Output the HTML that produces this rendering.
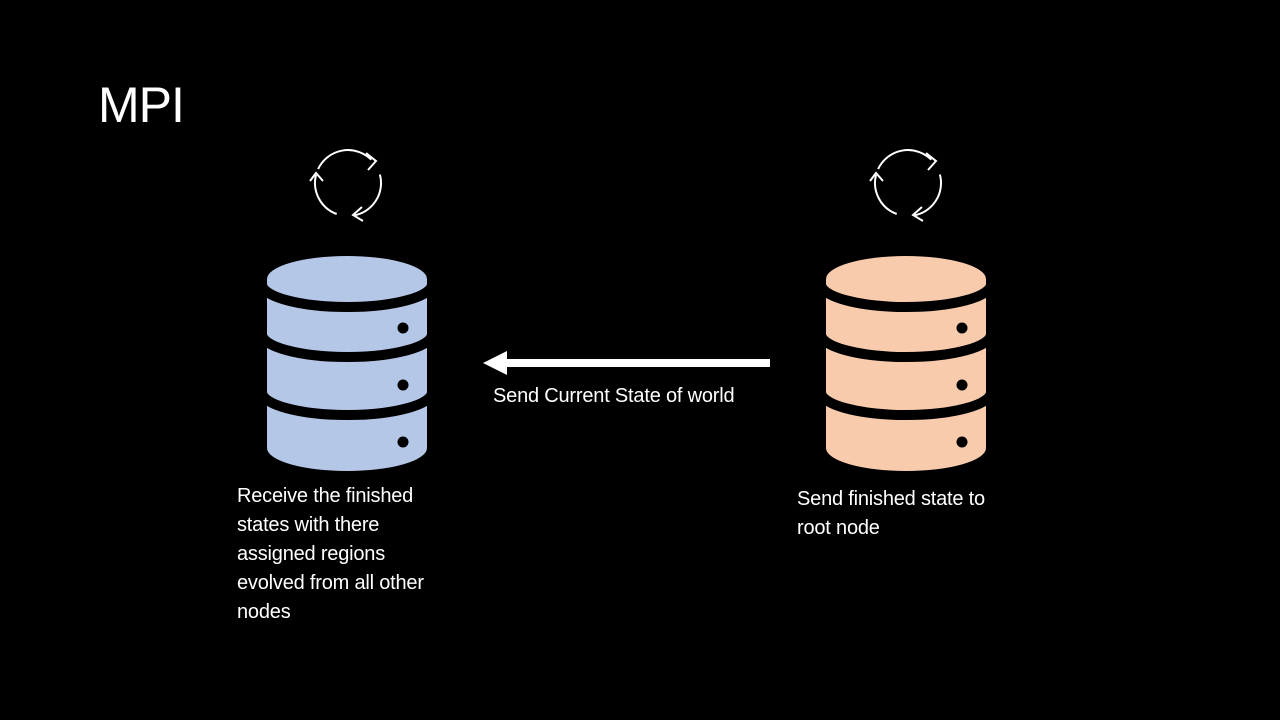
<!DOCTYPE html>
<html><head><style>
html,body{margin:0;padding:0;background:#000;}
body{width:1280px;height:720px;position:relative;overflow:hidden;font-family:"Liberation Sans",sans-serif;color:#fff;}
.t{position:absolute;font-size:20px;line-height:29px;letter-spacing:-0.2px;}
</style></head><body>
<div style="position:absolute;left:98px;top:76px;font-size:50px;font-weight:300;letter-spacing:-1px;">MPI</div>
<svg width="1280" height="720" style="position:absolute;left:0;top:0">
<defs>
<clipPath id="cc"><path d="M0,23 A80,23 0 0 1 160,23 L160,192 A80,23 0 0 1 0,192 Z"/></clipPath>
<g id="cyl">
<path d="M0,23 A80,23 0 0 1 160,23 L160,192 A80,23 0 0 1 0,192 Z"/>
<g fill="none" stroke="#000" stroke-width="10" clip-path="url(#cc)">
<path d="M-5,28 A85,23 0 0 0 165,28"/>
<path d="M-5,78 A85,23 0 0 0 165,78"/>
<path d="M-5,136 A85,23 0 0 0 165,136"/>
</g>
<circle cx="136" cy="72" r="5.5" fill="#000"/>
<circle cx="136" cy="129" r="5.5" fill="#000"/>
<circle cx="136" cy="186" r="5.5" fill="#000"/>
</g>
<g id="ref" fill="none" stroke="#fff" stroke-width="2">
<path d="M-29.9,-13.9 A33,33 0 0 1 23.3,-23.3"/>
<path d="M18,-30 L28,-22 L20,-13"/>
<path d="M31.9,-8.5 A33,33 0 0 1 5.7,32.5"/>
<path d="M14,24 L5,32 L15,38"/>
<path d="M-11.3,31 A33,33 0 0 1 -32,-8"/>
<path d="M-38,-2 L-32,-10 L-25,-2"/>
</g>
</defs>
<use href="#cyl" x="267" y="256" fill="#b4c7e7"/>
<use href="#cyl" x="826" y="256" fill="#f8cbad"/>
<use href="#ref" x="348" y="183"/>
<use href="#ref" x="908" y="183"/>
<rect x="503" y="359" width="267" height="8" fill="#fff"/>
<polygon points="483,363 507,351 507,375" fill="#fff"/>
</svg>
<div class="t" style="left:493px;top:382px;">Send Current State of world</div>
<div class="t" style="left:237px;top:482px;width:260px;">Receive the finished<br>states with there<br>assigned regions<br>evolved from all other<br>nodes</div>
<div class="t" style="left:797px;top:485px;">Send finished state to<br>root node</div>
</body></html>
